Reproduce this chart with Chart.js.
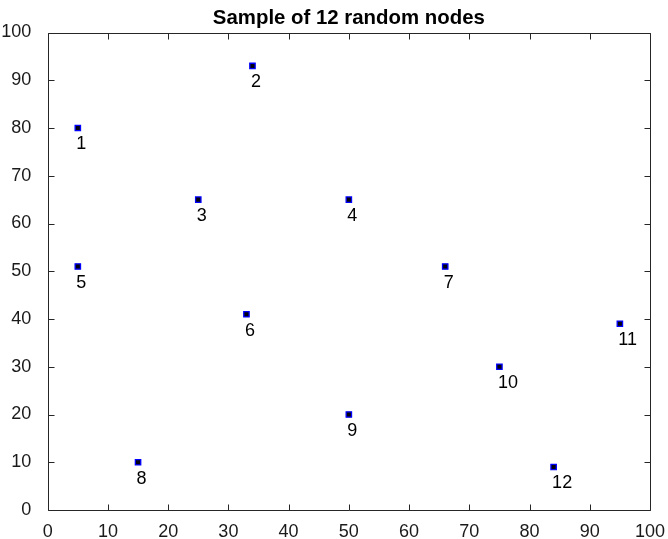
<!DOCTYPE html>
<html>
<head>
<meta charset="utf-8">
<script src="https://cdn.jsdelivr.net/npm/chart.js@4/dist/chart.umd.min.js"></script>
<style>
html,body{margin:0;padding:0;background:#fff;}
#wrap{width:668px;height:539px;}
</style>
</head>
<body>
<div id="wrap"><canvas id="c" width="668" height="539"></canvas></div>
<script>
const titleText = 'Sample of 12 random nodes';
const nodeLabels = ['1','2','3','4','5','6','7','8','9','10','11','12'];
const xVals = [5, 34, 25, 50, 5, 33, 66, 15, 50, 75, 95, 84];
const yVals = [80, 93, 65, 65, 51, 41, 51, 10, 20, 30, 39, 9];
const xTicks = [0,10,20,30,40,50,60,70,80,90,100];
const yTicks = [0,10,20,30,40,50,60,70,80,90,100];

const FONT = '"Liberation Sans", Arial, Helvetica, sans-serif';
const AXC = '#262626';

const boxPlugin = {
  id: 'boxPlugin',
  afterDatasetsDraw(chart) {
    const ctx = chart.ctx, a = chart.chartArea;
    const xs = chart.scales.x, ys = chart.scales.y;
    ctx.save();
    ctx.strokeStyle = AXC;
    ctx.lineWidth = 1;
    const L = Math.round(a.left) + 0.5, R = Math.round(a.right) + 0.5;
    const T = Math.round(a.top) + 0.5, B = Math.round(a.bottom) + 0.5;
    ctx.beginPath();
    ctx.rect(L, T, R - L, B - T);
    ctx.stroke();
    const tl = 6;
    ctx.beginPath();
    xTicks.forEach(v => {
      const px = Math.round(xs.getPixelForValue(v)) + 0.5;
      ctx.moveTo(px, B); ctx.lineTo(px, B - tl);
      ctx.moveTo(px, T); ctx.lineTo(px, T + tl);
    });
    yTicks.forEach(v => {
      const py = Math.round(ys.getPixelForValue(v)) + 0.5;
      ctx.moveTo(L, py); ctx.lineTo(L + tl, py);
      ctx.moveTo(R, py); ctx.lineTo(R - tl, py);
    });
    ctx.stroke();
    // title centred on the plot area
    ctx.fillStyle = '#000';
    ctx.font = 'bold 20.4px ' + FONT;
    ctx.textAlign = 'center';
    ctx.textBaseline = 'alphabetic';
    ctx.fillText(titleText, (a.left + a.right) / 2, 24);
    // node labels
    const meta = chart.getDatasetMeta(0);
    ctx.font = '18px ' + FONT;
    ctx.textAlign = 'left';
    ctx.textBaseline = 'middle';
    meta.data.forEach((pt, i) => {
      ctx.fillText(nodeLabels[i], pt.x - 1.5, pt.y + 16.5);
    });
    ctx.restore();
  }
};

new Chart(document.getElementById('c'), {
  type: 'scatter',
  data: {
    datasets: [{
      data: xVals.map((x, i) => ({x: x, y: yVals[i]})),
      pointStyle: 'rect',
      pointRadius: 3.8,
      pointHoverRadius: 3.8,
      backgroundColor: '#000010',
      borderColor: '#0000ff',
      borderWidth: 1.3
    }]
  },
  options: {
    responsive: false,
    animation: false,
    events: [],
    layout: { padding: { top: 32.5, right: 16.5, left: 0, bottom: 0 } },
    plugins: {
      legend: { display: false },
      tooltip: { enabled: false },
      title: { display: false }
    },
    scales: {
      x: {
        type: 'linear', min: 0, max: 100,
        afterBuildTicks: s => { s.ticks = xTicks.map(v => ({value: v})); },
        grid: { display: false },
        border: { display: false },
        ticks: { color: '#1a1a1a', font: { family: FONT, size: 18 }, padding: 3, maxRotation: 0, autoSkip: false },
        afterFit: s => { s.height = 29; }
      },
      y: {
        type: 'linear', min: 0, max: 100,
        afterBuildTicks: s => { s.ticks = yTicks.map(v => ({value: v})); },
        grid: { display: false },
        border: { display: false },
        ticks: { color: '#1a1a1a', font: { family: FONT, size: 18 }, padding: 8.5, autoSkip: false },
        afterFit: s => { s.width = 47.7; }
      }
    }
  },
  plugins: [boxPlugin]
});
</script>
</body>
</html>
